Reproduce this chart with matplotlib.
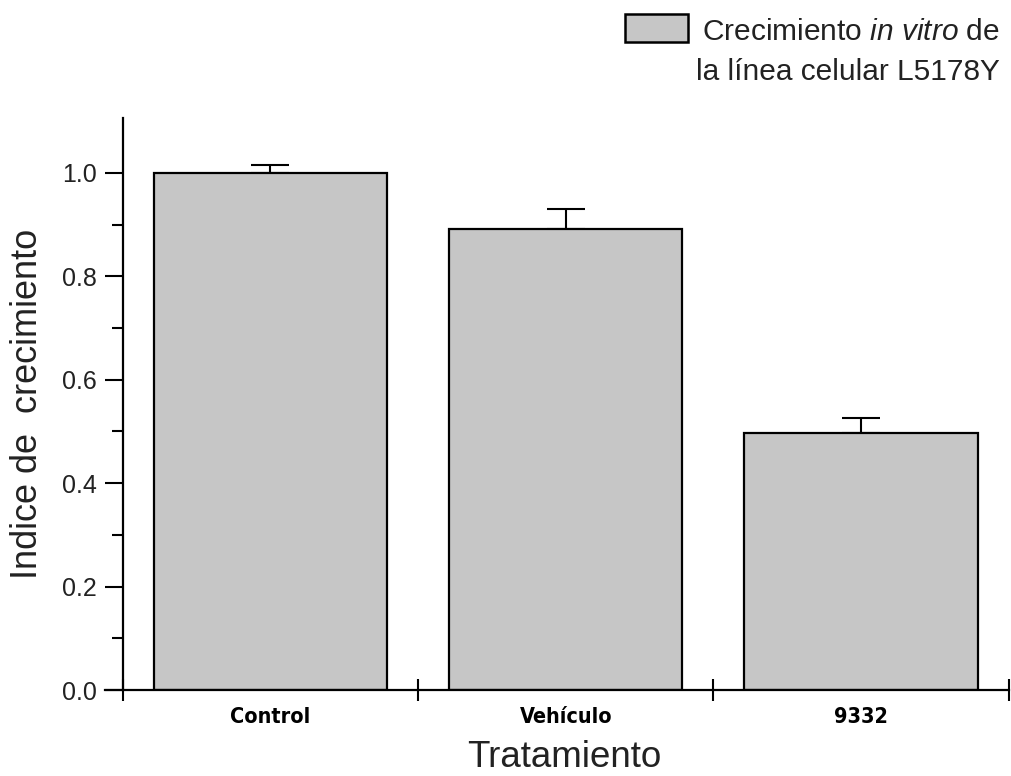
import matplotlib.pyplot as plt
import numpy as np
from matplotlib.patches import Rectangle

plt.rcParams['font.family'] = ['Liberation Sans', 'DejaVu Sans']
plt.rcParams['mathtext.fontset'] = 'custom'
plt.rcParams['mathtext.it'] = 'Liberation Sans:italic'
plt.rcParams['mathtext.rm'] = 'Liberation Sans'

# Growth index per treatment, with upper error (SEM)
categories = ["Control", "Vehículo", "9332"]
growth_index = [1.0, 0.892, 0.497]
growth_err = [0.015, 0.038, 0.029]

bar_color = '#c6c6c6'
text_color = '#222222'

fig = plt.figure(figsize=(10.12, 7.76), dpi=100)
ax = fig.add_axes([0.1038, 0.1108, 0.893, 0.737])

x = np.arange(len(categories))
ax.bar(x, growth_index, width=0.79, color=bar_color, edgecolor='black',
       linewidth=1.6, zorder=2)
ax.errorbar(x, growth_index, yerr=[np.zeros(len(x)), growth_err], fmt='none',
            ecolor='black', elinewidth=1.5, capsize=14, capthick=1.5, zorder=1)

ax.set_xlim(-0.56, 2.5)
ax.set_ylim(0, 1.106)

# spines: y axis sits at the left category boundary
ax.spines['top'].set_visible(False)
ax.spines['right'].set_visible(False)
ax.spines['left'].set_position(('data', -0.5))
ax.spines['left'].set_linewidth(1.6)
ax.spines['bottom'].set_linewidth(1.6)

# y ticks
ax.set_yticks(np.arange(0, 1.01, 0.2))
ax.set_yticklabels([f"{v:.1f}" for v in np.arange(0, 1.01, 0.2)])
ax.set_yticks(np.arange(0.1, 1.1, 0.2), minor=True)
ax.tick_params(axis='y', which='major', direction='out', length=13, width=1.5,
               labelsize=18, pad=6, labelcolor=text_color)
ax.tick_params(axis='y', which='minor', direction='out', length=8, width=1.5)

# x ticks: boundaries between categories, labels centred under bars
ax.set_xticks([-0.5, 0.5, 1.5, 2.5])
ax.set_xticklabels([])
ax.tick_params(axis='x', which='major', direction='inout', length=16, width=1.5)
for xi, name in zip(x, categories):
    ax.text(xi, -0.033, name, ha='center', va='top', fontsize=15.5,
            fontweight='bold', fontstretch='condensed',
            family=['DejaVu Sans'], transform=ax.transData)

ax.set_ylabel("Indice de  crecimiento", fontsize=26, labelpad=12,
              color=text_color)
fig.text(0.558, 0.024, "Tratamiento", ha='center', va='center', fontsize=26.5,
         color=text_color)

# legend key and its two-line caption, top right
fig.add_artist(Rectangle((0.6176, 0.9459), 0.0623, 0.0361,
                         transform=fig.transFigure, facecolor=bar_color,
                         edgecolor='black', linewidth=1.8))
fig.text(0.988, 0.9485, r"Crecimiento $\it{in\ vitro}$ de", ha='right',
         va='baseline', fontsize=21.5, color=text_color)
fig.text(0.988, 0.8969, "la línea celular L5178Y", ha='right',
         va='baseline', fontsize=21.5, color=text_color)

fig.savefig('out.png', dpi=100)
